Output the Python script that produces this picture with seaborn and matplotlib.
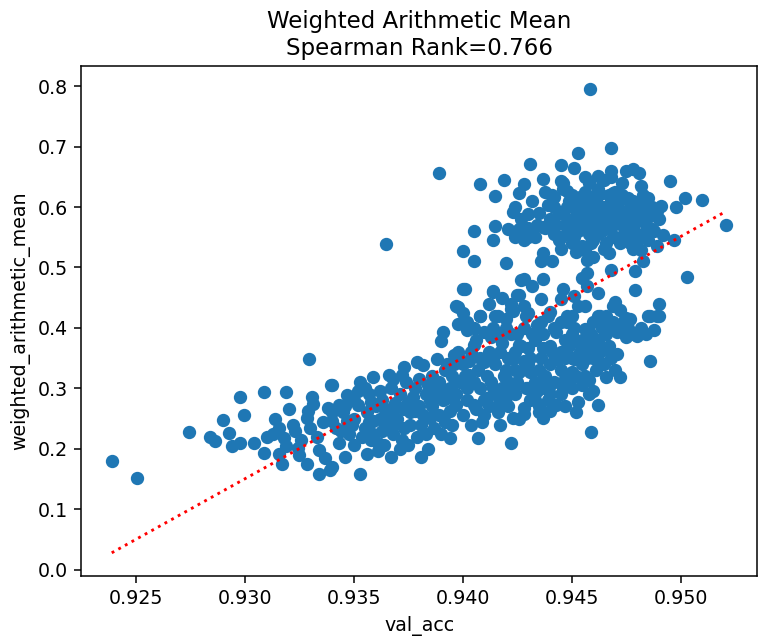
import numpy as np
import pandas as pd
import matplotlib
matplotlib.use("Agg")
import matplotlib.pyplot as plt
import seaborn as sns

# ----------------- Data -------------------------------------------
# (val_acc, weighted_arithmetic_mean) pairs, grouped by region of the cloud

left_tail = [
    (0.92389, 0.180), (0.92505, 0.151), (0.92742, 0.228), (0.92839, 0.219),
    (0.92865, 0.213), (0.92899, 0.248), (0.92926, 0.226), (0.92941, 0.205),
    (0.92978, 0.285), (0.92995, 0.256), (0.92978, 0.209), (0.93044, 0.209),
    (0.93086, 0.294), (0.93089, 0.193), (0.93104, 0.219), (0.93140, 0.249),
    (0.93155, 0.235), (0.93170, 0.175), (0.93190, 0.294), (0.93205, 0.265),
    (0.93155, 0.191), (0.93180, 0.218), (0.93231, 0.229), (0.93246, 0.202),
    (0.93284, 0.251), (0.93284, 0.175), (0.93315, 0.274), (0.93342, 0.159),
    (0.93391, 0.165), (0.93395, 0.305), (0.93400, 0.260), (0.93220, 0.240),
    (0.93260, 0.215), (0.93300, 0.235), (0.93330, 0.220), (0.93360, 0.245),
    (0.93290, 0.262), (0.93340, 0.198), (0.93370, 0.185), (0.93250, 0.190),
    (0.93190, 0.205), (0.93130, 0.225), (0.93310, 0.285), (0.93296, 0.349),
]

middle_band = [
    (0.9400, 0.464), (0.9414, 0.461), (0.9427, 0.480), (0.9426, 0.455),
    (0.9397, 0.436), (0.9400, 0.425), (0.9398, 0.406), (0.9408, 0.420),
    (0.9416, 0.420), (0.9420, 0.415), (0.9423, 0.428), (0.9391, 0.393),
    (0.9390, 0.379), (0.9402, 0.396), (0.9410, 0.393), (0.9417, 0.387),
    (0.9426, 0.371), (0.9405, 0.371), (0.9423, 0.349), (0.9426, 0.327),
    (0.9420, 0.316), (0.9410, 0.344), (0.9403, 0.322), (0.9399, 0.349),
    (0.9396, 0.355), (0.9388, 0.349), (0.9382, 0.338), (0.9379, 0.344),
    (0.9373, 0.336), (0.9372, 0.322), (0.9368, 0.316), (0.9366, 0.322),
    (0.9359, 0.319), (0.9353, 0.311), (0.9355, 0.300), (0.9340, 0.306),
    (0.9347, 0.289), (0.9343, 0.273), (0.9338, 0.267), (0.9352, 0.273),
    (0.9358, 0.278), (0.9362, 0.295), (0.9364, 0.267), (0.9368, 0.262),
    (0.9375, 0.278), (0.9378, 0.262), (0.9384, 0.306), (0.9387, 0.284),
    (0.9388, 0.295), (0.9393, 0.284), (0.9394, 0.262), (0.9397, 0.273),
    (0.9405, 0.273), (0.9411, 0.284), (0.9414, 0.300), (0.9417, 0.278),
    (0.9423, 0.300), (0.9428, 0.267), (0.9423, 0.251), (0.9417, 0.240),
    (0.9410, 0.256), (0.9407, 0.218), (0.9422, 0.210), (0.9394, 0.218),
    (0.9390, 0.224), (0.9385, 0.251), (0.9381, 0.240), (0.9375, 0.207),
    (0.9381, 0.186), (0.9373, 0.235), (0.9368, 0.224), (0.9364, 0.207),
    (0.9361, 0.196), (0.9367, 0.186), (0.9356, 0.191), (0.9350, 0.207),
    (0.9344, 0.229), (0.9340, 0.246), (0.9347, 0.246), (0.9355, 0.235),
    (0.9359, 0.246), (0.9346, 0.186), (0.9340, 0.169), (0.9353, 0.158),
    (0.9359, 0.224), (0.9368, 0.240), (0.93648, 0.539),
]

middle_fill = [
    (0.9345, 0.260), (0.9350, 0.250), (0.9356, 0.260), (0.9362, 0.250),
    (0.9365, 0.240), (0.9370, 0.250), (0.9376, 0.260), (0.9380, 0.270),
    (0.9385, 0.280), (0.9390, 0.300), (0.9395, 0.320), (0.9400, 0.340),
    (0.9350, 0.280), (0.9357, 0.290), (0.9363, 0.280), (0.9371, 0.290),
    (0.9378, 0.300), (0.9386, 0.320), (0.9393, 0.340), (0.9398, 0.360),
    (0.9343, 0.210), (0.9348, 0.225), (0.9358, 0.215), (0.9372, 0.215),
    (0.9383, 0.225), (0.9392, 0.245), (0.9402, 0.300), (0.9404, 0.360),
    (0.9406, 0.380), (0.9412, 0.360), (0.9415, 0.340), (0.9420, 0.330),
    (0.9413, 0.310), (0.9418, 0.300), (0.9408, 0.300), (0.9410, 0.280),
    (0.9420, 0.285), (0.9425, 0.310), (0.9428, 0.345), (0.9424, 0.360),
    (0.9418, 0.375), (0.9414, 0.400), (0.9420, 0.400), (0.9425, 0.390),
    (0.9428, 0.400), (0.9422, 0.440), (0.9418, 0.450), (0.9412, 0.440),
    (0.9405, 0.400), (0.9402, 0.410),
]

middle_fill2 = [
    (0.9342, 0.235), (0.9346, 0.270), (0.9349, 0.240), (0.9352, 0.295),
    (0.9354, 0.220), (0.9357, 0.245), (0.9360, 0.270), (0.9361, 0.210),
    (0.9363, 0.230), (0.9366, 0.255), (0.9367, 0.300), (0.9369, 0.275),
    (0.9371, 0.200), (0.9373, 0.265), (0.9374, 0.310), (0.9376, 0.240),
    (0.9377, 0.285), (0.9379, 0.220), (0.9380, 0.315), (0.9382, 0.255),
    (0.9383, 0.290), (0.9384, 0.200), (0.9386, 0.270), (0.9387, 0.235),
    (0.9389, 0.310), (0.9389, 0.255), (0.9391, 0.280), (0.9392, 0.330),
    (0.9394, 0.300), (0.9395, 0.240), (0.9396, 0.340), (0.9397, 0.290),
    (0.9399, 0.310), (0.9400, 0.255), (0.9401, 0.320), (0.9402, 0.280),
    (0.9403, 0.345), (0.9404, 0.240), (0.9405, 0.310), (0.9406, 0.265),
    (0.9407, 0.330), (0.9408, 0.350), (0.9409, 0.245), (0.9411, 0.320),
    (0.9412, 0.270), (0.9413, 0.385), (0.9414, 0.350), (0.9415, 0.290),
    (0.9416, 0.260), (0.9417, 0.360), (0.9419, 0.320), (0.9421, 0.270),
    (0.9421, 0.350), (0.9422, 0.390), (0.9424, 0.290), (0.9424, 0.330),
    (0.9426, 0.250), (0.9427, 0.370), (0.9429, 0.300), (0.9429, 0.420),
    (0.9431, 0.280), (0.9431, 0.350), (0.9433, 0.310), (0.9433, 0.380),
    (0.9435, 0.270), (0.9436, 0.350), (0.9437, 0.390), (0.9438, 0.320),
    (0.9439, 0.280), (0.9441, 0.360), (0.9442, 0.310), (0.9442, 0.400),
    (0.9444, 0.350), (0.9446, 0.300), (0.9447, 0.350), (0.9449, 0.310),
    (0.9449, 0.370), (0.9451, 0.400), (0.9452, 0.320), (0.9454, 0.360),
    (0.9457, 0.350), (0.9459, 0.390), (0.9461, 0.330), (0.9463, 0.360),
    (0.9464, 0.400), (0.9467, 0.370), (0.9469, 0.410), (0.9473, 0.400),
    (0.9476, 0.400), (0.9478, 0.390), (0.9482, 0.400), (0.9468, 0.350),
    (0.9455, 0.305), (0.9440, 0.290), (0.9436, 0.300),
]

lower_right = [
    (0.9490, 0.439), (0.9486, 0.420), (0.9490, 0.420), (0.9488, 0.396),
    (0.9484, 0.390), (0.9480, 0.387), (0.9475, 0.385), (0.9471, 0.393),
    (0.9474, 0.412), (0.9477, 0.415), (0.9465, 0.404), (0.9462, 0.420),
    (0.9456, 0.398), (0.9453, 0.376), (0.9461, 0.366), (0.9466, 0.366),
    (0.9471, 0.356), (0.9486, 0.345), (0.9463, 0.341), (0.9466, 0.318),
    (0.9472, 0.318), (0.9458, 0.314), (0.9460, 0.295), (0.9462, 0.272),
    (0.9459, 0.227), (0.9453, 0.278), (0.9450, 0.327), (0.9447, 0.316),
    (0.9443, 0.349), (0.9451, 0.349), (0.9440, 0.262), (0.9437, 0.251),
    (0.9428, 0.257), (0.9443, 0.273), (0.9434, 0.295), (0.9440, 0.306),
    (0.9431, 0.327), (0.9430, 0.366), (0.9437, 0.366), (0.9443, 0.393),
    (0.9434, 0.404), (0.9448, 0.409), (0.9440, 0.426), (0.9453, 0.436),
    (0.9428, 0.436),
]

lower_right_fill = [
    (0.9430, 0.340), (0.9435, 0.330), (0.9440, 0.340), (0.9445, 0.360),
    (0.9440, 0.370), (0.9447, 0.380), (0.9450, 0.390), (0.9455, 0.380),
    (0.9458, 0.370), (0.9462, 0.380), (0.9466, 0.390), (0.9470, 0.400),
    (0.9460, 0.350), (0.9455, 0.340), (0.9450, 0.350), (0.9445, 0.330),
    (0.9438, 0.300), (0.9433, 0.280), (0.9430, 0.300), (0.9435, 0.260),
    (0.9445, 0.290), (0.9450, 0.300), (0.9456, 0.320), (0.9465, 0.340),
    (0.9470, 0.330), (0.9458, 0.290), (0.9452, 0.260), (0.9447, 0.270),
    (0.9432, 0.390), (0.9436, 0.410), (0.9445, 0.410), (0.9450, 0.420),
    (0.9460, 0.410), (0.9466, 0.420), (0.9472, 0.430),
]

upper_cluster = [
    (0.94586, 0.795), (0.9389, 0.657), (0.9468, 0.698), (0.9453, 0.690),
    (0.9431, 0.672), (0.9445, 0.670), (0.9451, 0.665), (0.9408, 0.638),
    (0.9419, 0.645), (0.9428, 0.638), (0.9437, 0.647), (0.9445, 0.643),
    (0.9456, 0.649), (0.9462, 0.652), (0.9468, 0.660), (0.9468, 0.649),
    (0.9475, 0.660), (0.9478, 0.663), (0.9481, 0.657), (0.9482, 0.635),
    (0.9495, 0.643), (0.9415, 0.618), (0.9426, 0.623), (0.9446, 0.630),
    (0.9469, 0.624), (0.9485, 0.615), (0.9502, 0.615), (0.9510, 0.612),
    (0.9498, 0.600), (0.9491, 0.601), (0.9489, 0.594), (0.9484, 0.586),
    (0.9405, 0.560), (0.9415, 0.569), (0.9400, 0.528), (0.9405, 0.510),
    (0.9420, 0.508), (0.9414, 0.545), (0.9424, 0.600), (0.9423, 0.592),
    (0.9430, 0.589), (0.9421, 0.564), (0.9426, 0.564), (0.9430, 0.551),
    (0.9437, 0.567), (0.9436, 0.510), (0.9441, 0.510), (0.9437, 0.524),
    (0.9439, 0.603), (0.9442, 0.616), (0.9446, 0.589), (0.9448, 0.627),
    (0.9445, 0.551), (0.9451, 0.551), (0.9453, 0.589), (0.9454, 0.616),
    (0.9456, 0.573), (0.9459, 0.589), (0.9460, 0.616), (0.9462, 0.556),
    (0.9463, 0.622), (0.9466, 0.589), (0.9466, 0.540), (0.9469, 0.600),
    (0.9471, 0.573), (0.9472, 0.611), (0.9474, 0.584), (0.9477, 0.600),
    (0.9478, 0.567), (0.9480, 0.556), (0.9481, 0.578), (0.9475, 0.551),
    (0.9469, 0.551), (0.9459, 0.540), (0.9456, 0.529), (0.9457, 0.513),
    (0.9460, 0.518), (0.9452, 0.526), (0.9467, 0.524), (0.9482, 0.529),
    (0.9483, 0.510), (0.9487, 0.564), (0.9492, 0.554), (0.9497, 0.545),
    (0.9489, 0.535), (0.9521, 0.570), (0.9468, 0.496), (0.9479, 0.494),
    (0.9503, 0.485), (0.9479, 0.463), (0.9470, 0.442), (0.9469, 0.436),
    (0.9457, 0.491), (0.9455, 0.483), (0.9437, 0.481), (0.9428, 0.481),
    (0.9401, 0.464), (0.9414, 0.460), (0.9398, 0.435), (0.9425, 0.455),
    (0.9432, 0.469), (0.9436, 0.447), (0.9446, 0.464), (0.9445, 0.447),
    (0.9451, 0.453), (0.9457, 0.469), (0.9462, 0.458), (0.9456, 0.436),
    (0.9408, 0.420), (0.9415, 0.420), (0.9422, 0.431), (0.9430, 0.425),
    (0.9485, 0.420), (0.9489, 0.420), (0.9475, 0.417), (0.9463, 0.420),
    (0.9448, 0.420), (0.9439, 0.420),
]

upper_fill = [
    (0.9440, 0.580), (0.9443, 0.570), (0.9448, 0.600), (0.9450, 0.580),
    (0.9455, 0.600), (0.9458, 0.610), (0.9460, 0.600), (0.9463, 0.590),
    (0.9465, 0.600), (0.9468, 0.610), (0.9470, 0.590), (0.9472, 0.580),
    (0.9475, 0.590), (0.9478, 0.610), (0.9480, 0.600), (0.9455, 0.570),
    (0.9462, 0.570), (0.9468, 0.565), (0.9474, 0.565), (0.9458, 0.555),
    (0.9452, 0.565), (0.9448, 0.555), (0.9444, 0.545), (0.9462, 0.630),
    (0.9470, 0.625), (0.9476, 0.615), (0.9482, 0.600), (0.9450, 0.620),
    (0.9456, 0.625), (0.9442, 0.600), (0.9435, 0.590), (0.9438, 0.565),
    (0.9433, 0.550), (0.9428, 0.545), (0.9424, 0.550), (0.9427, 0.580),
    (0.9432, 0.610), (0.9445, 0.530), (0.9455, 0.535), (0.9465, 0.530),
    (0.9472, 0.540), (0.9478, 0.530), (0.9485, 0.545), (0.9488, 0.560),
    (0.9484, 0.570),
]

upper_fill2 = [
    (0.9441, 0.620), (0.9444, 0.590), (0.9447, 0.570), (0.9449, 0.610),
    (0.9451, 0.600), (0.9453, 0.560), (0.9454, 0.580), (0.9457, 0.590),
    (0.9459, 0.570), (0.9461, 0.610), (0.9462, 0.580), (0.9464, 0.560),
    (0.9466, 0.575), (0.9467, 0.620), (0.9469, 0.580), (0.9471, 0.600),
    (0.9473, 0.620), (0.9474, 0.555), (0.9476, 0.575), (0.9477, 0.540),
    (0.9479, 0.580), (0.9481, 0.590), (0.9483, 0.555), (0.9483, 0.620),
    (0.9486, 0.585), (0.9487, 0.600), (0.9490, 0.580), (0.9446, 0.640),
    (0.9458, 0.640), (0.9465, 0.645), (0.9473, 0.640), (0.9438, 0.625),
    (0.9434, 0.570), (0.9430, 0.565), (0.9450, 0.540), (0.9460, 0.545),
    (0.9470, 0.550), (0.9480, 0.545), (0.9442, 0.555),
]

# regression line (y = slope * val_acc + intercept)
fit_slope = 20.04
fit_intercept = -18.487

spearman = 0.766

groups = [left_tail, middle_band, middle_fill, middle_fill2, lower_right,
          lower_right_fill, upper_cluster, upper_fill, upper_fill2]
df = pd.DataFrame([p for g in groups for p in g],
                  columns=["val_acc", "weighted_arithmetic_mean"])

# ----------------- Plot ------------------
dpi = 137
fig = plt.figure(figsize=(759 / dpi, 643 / dpi), dpi=dpi)
ax = fig.add_axes([81 / 759, 67 / 643, 676 / 759, 510 / 643])

sns.scatterplot(data=df, x="val_acc", y="weighted_arithmetic_mean", ax=ax,
                color="#1f77b4", edgecolor="#1f77b4", linewidth=1, s=36)

# fit line spanning the data range
xs = np.array([df["val_acc"].min(), df["val_acc"].max()])
ax.plot(xs, fit_slope * xs + fit_intercept, "r:", linewidth=1.5)

ax.set_title(f"Weighted Arithmetic Mean\nSpearman Rank={spearman}")
ax.set_xlabel("val_acc")
ax.set_ylabel("weighted_arithmetic_mean")

fig.savefig("out.png", dpi=dpi)
